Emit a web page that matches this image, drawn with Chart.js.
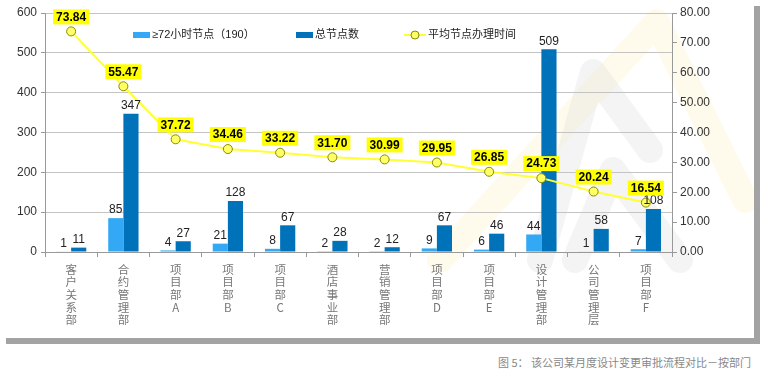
<!DOCTYPE html>
<html>
<head>
<meta charset="utf-8">
<script src="https://cdn.jsdelivr.net/npm/chart.js@4"></script>
<style>
  html, body { margin: 0; padding: 0; background: #fff; }
  body { width: 765px; height: 375px; position: relative; overflow: hidden; font-family: "Liberation Sans", Arial, "Noto Sans CJK SC", sans-serif; }
  #frame { position: absolute; left: 0; top: 0; width: 754px; height: 338px; background: #fff; box-shadow: 6px 6px 0 #a3a3a3; }
  #caption { position: absolute; right: 14px; top: 354px; font-size: 11px; color: #888; font-family: "Noto Sans CJK SC", sans-serif; }
</style>
</head>
<body>
<div id="frame"><canvas id="chart" width="754" height="338"></canvas></div>
<div id="caption">图 5： 该公司某月度设计变更审批流程对比－按部门</div>
<script>
const departments = ['客户关系部', '合约管理部', '项目部A', '项目部B', '项目部C', '酒店事业部', '营销管理部', '项目部D', '项目部E', '设计管理部', '公司管理层', '项目部F'];
const over72Nodes = [1, 85, 4, 21, 8, 2, 2, 9, 6, 44, 1, 7];
const totalNodes = [11, 347, 27, 128, 67, 28, 12, 67, 46, 509, 58, 108];
const avgTime = [73.84, 55.47, 37.72, 34.46, 33.22, 31.70, 30.99, 29.95, 26.85, 24.73, 20.24, 16.54];
const seriesNames = ['≥72小时节点（190）', '总节点数', '平均节点办理时间'];

const cjk = '"Liberation Sans", Arial, "Noto Sans CJK SC", sans-serif';

// vertical labels: one character per line
const verticalLabels = departments.map(d => d.split(''));

// faint logo in the background
const watermark = {
  id: 'watermark',
  beforeDraw(chart) {
    const c = chart.ctx;
    c.save();
    c.lineCap = 'round';
    c.lineJoin = 'round';
    c.lineWidth = 26;
    c.strokeStyle = 'rgba(255, 236, 170, 0.22)';
    c.beginPath(); c.moveTo(440, 260); c.lineTo(657, 22); c.lineTo(745, 200); c.stroke();
    c.strokeStyle = 'rgba(215, 215, 215, 0.28)';
    c.beginPath(); c.moveTo(540, 260); c.lineTo(593, 72); c.lineTo(650, 150); c.stroke();
    c.beginPath(); c.moveTo(575, 260); c.lineTo(613, 170); c.lineTo(680, 260); c.stroke();
    c.restore();
  }
};

// bar values + line value boxes
const valueLabels = {
  id: 'valueLabels',
  afterDatasetsDraw(chart) {
    const c = chart.ctx;
    c.save();
    c.textAlign = 'center';
    [0, 1].forEach(i => {
      const meta = chart.getDatasetMeta(i);
      c.font = '12px ' + cjk;
      c.fillStyle = '#222';
      c.textBaseline = 'bottom';
      meta.data.forEach((bar, j) => {
        c.fillText(chart.data.datasets[i].data[j], bar.x, bar.y - 2);
      });
    });
    const line = chart.getDatasetMeta(2);
    c.font = 'bold 12px ' + cjk;
    c.textBaseline = 'middle';
    line.data.forEach((pt, j) => {
      const txt = avgTime[j].toFixed(2);
      const w = c.measureText(txt).width + 6;
      const cy = pt.y - 14;
      c.fillStyle = '#ffff00';
      c.fillRect(pt.x - w / 2, cy - 8, w, 15);
      c.fillStyle = '#000';
      c.fillText(txt, pt.x, cy);
    });
    c.restore();
  }
};

// legend drawn inside the plot
const innerLegend = {
  id: 'innerLegend',
  afterDraw(chart) {
    const c = chart.ctx;
    const ds = chart.data.datasets;
    c.save();
    c.font = '11px ' + cjk;
    c.textBaseline = 'middle';
    const y = 35;
    c.fillStyle = ds[0].backgroundColor;
    c.fillRect(133, y - 3, 17, 6);
    c.fillStyle = ds[1].backgroundColor;
    c.fillRect(296, y - 3, 17, 6);
    c.fillStyle = '#222';
    c.fillText(seriesNames[0], 152, y);
    c.fillText(seriesNames[1], 315, y);
    c.strokeStyle = ds[2].borderColor;
    c.lineWidth = 2;
    c.beginPath(); c.moveTo(404, y); c.lineTo(426, y); c.stroke();
    c.beginPath(); c.arc(415, y, 4, 0, Math.PI * 2);
    c.fillStyle = ds[2].pointBackgroundColor; c.fill();
    c.lineWidth = 1; c.strokeStyle = ds[2].pointBorderColor; c.stroke();
    c.fillStyle = '#222';
    c.fillText(seriesNames[2], 428, y);
    c.restore();
  }
};

new Chart(document.getElementById('chart'), {
  data: {
    labels: verticalLabels,
    datasets: [{
      type: 'bar',
      label: seriesNames[0],
      data: over72Nodes,
      backgroundColor: '#33a9f5',
      yAxisID: 'y',
      order: 2,
      barPercentage: 1,
      categoryPercentage: 0.58
    }, {
      type: 'bar',
      label: seriesNames[1],
      data: totalNodes,
      backgroundColor: '#0072b9',
      yAxisID: 'y',
      order: 2,
      barPercentage: 1,
      categoryPercentage: 0.58
    }, {
      type: 'line',
      label: seriesNames[2],
      data: avgTime,
      borderColor: '#ffff33',
      borderWidth: 2,
      pointRadius: 4.5,
      pointBackgroundColor: '#ffff66',
      pointBorderColor: '#8a8a00',
      pointBorderWidth: 1,
      yAxisID: 'y1',
      order: 0,
      tension: 0
    }]
  },
  options: {
    responsive: false,
    animation: false,
    layout: { padding: { top: 13, bottom: 0, left: 0, right: 0 } },
    plugins: { legend: { display: false }, tooltip: { enabled: false } },
    scales: {
      x: {
        grid: { display: true, drawOnChartArea: false, color: '#999', tickLength: 5, offset: true },
        border: { color: '#999' },
        ticks: { color: '#777', font: { size: 11.5, family: '"Noto Sans CJK SC", sans-serif', lineHeight: 1.1 }, maxRotation: 0, autoSkip: false, padding: 6 },
        afterFit: s => { s.height = 86; }
      },
      y: {
        position: 'left',
        min: 0, max: 600,
        ticks: { stepSize: 100, color: '#333', font: { size: 12, family: cjk }, padding: 4 },
        grid: { color: '#c4c4c4', tickLength: 4, tickColor: '#999' },
        border: { color: '#999' },
        afterFit: s => { s.width = 45; }
      },
      y1: {
        position: 'right',
        min: 0, max: 80,
        ticks: { stepSize: 10, color: '#333', font: { size: 12, family: cjk }, padding: 3, callback: v => v.toFixed(2) },
        grid: { drawOnChartArea: false, tickLength: 5, color: '#999' },
        border: { color: '#999' },
        afterFit: s => { s.width = 82; }
      }
    }
  },
  plugins: [watermark, valueLabels, innerLegend]
});
</script>
</body>
</html>
